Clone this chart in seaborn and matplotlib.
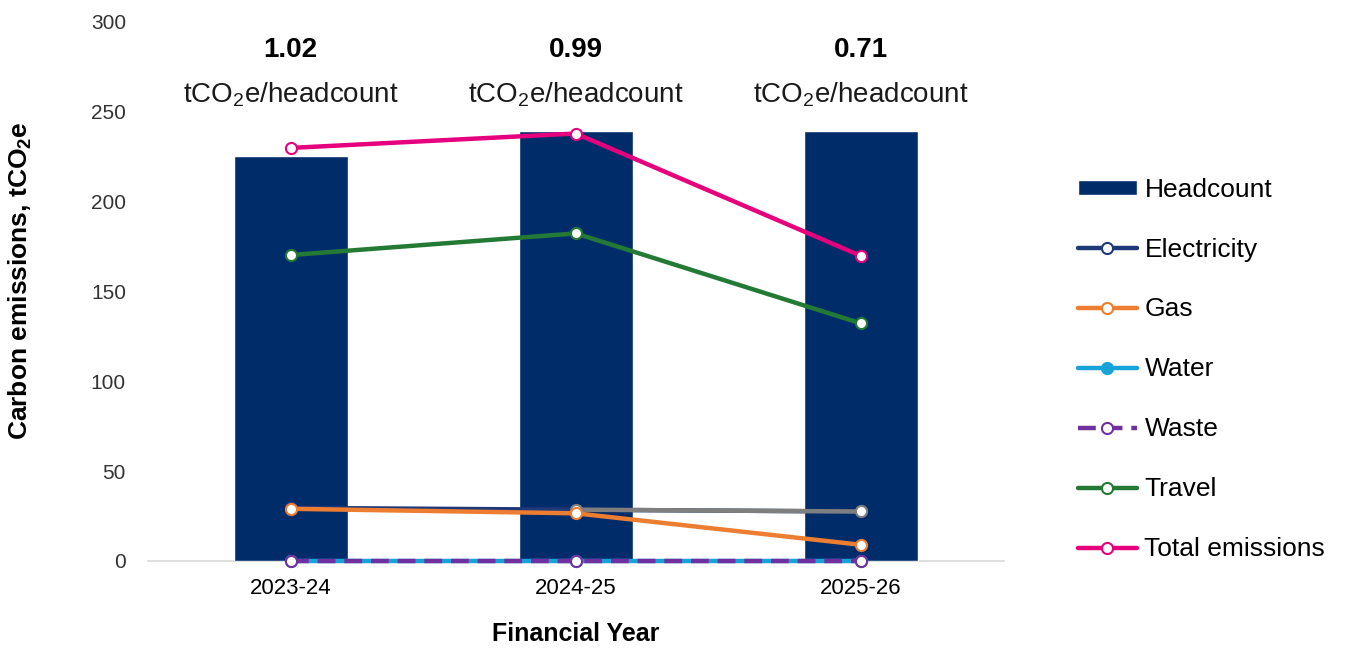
import numpy as np
import pandas as pd
import matplotlib
matplotlib.use("Agg")
import matplotlib.pyplot as plt
import seaborn as sns

# Chart data
years = ["2023-24", "2024-25", "2025-26"]
headcount = [225, 239, 239]
electricity = [29.5, 28.5, 27.5]
gas = [29.0, 26.5, 9.0]
water = [0, 0, 0]
waste = [0, 0, 0]
travel = [170, 182, 132]
total = [229.5, 237.5, 169.5]
per_head = ["1.02", "0.99", "0.71"]

sns.set_theme(style="white")
plt.rcParams['font.family'] = ['Liberation Sans', 'DejaVu Sans']
plt.rcParams['mathtext.fontset'] = 'custom'
plt.rcParams['mathtext.rm'] = 'Liberation Sans'
plt.rcParams['mathtext.it'] = 'Liberation Sans'
plt.rcParams['mathtext.bf'] = 'Liberation Sans:bold'
plt.rcParams['text.color'] = 'black'
plt.rcParams['axes.labelcolor'] = 'black'

NAVY = "#002D6A"
ELEC = "#1F3878"
ORANGE = "#ED7D31"
CYAN = "#17A2D8"
PURPLE = "#7030A0"
GREEN = "#237A35"
PINK = "#E6007E"
GREY = "#7F7F7F"

fig = plt.figure(figsize=(13.47, 6.49), dpi=100)
ax = fig.add_axes([0.110, 0.1356, 0.635, 0.832])

df = pd.DataFrame({"Year": years, "Headcount": headcount})
sns.barplot(data=df, x="Year", y="Headcount", order=years, color=NAVY,
            saturation=1, width=0.4, label="Headcount", ax=ax, zorder=1)

line_kw = dict(order=years, errorbar=None, markers="o", markersize=8,
               linewidth=3.2, markeredgewidth=1.5, ax=ax)

sns.pointplot(x=years, y=electricity, color=ELEC, linestyles="-",
              label="Electricity", markerfacecolor="white", zorder=3, **line_kw)
# last electricity segment is drawn in grey in the original
sns.pointplot(x=years[1:], y=electricity[1:], color=GREY, linestyles="-",
              markerfacecolor="white", zorder=3.05, **line_kw)
sns.pointplot(x=years, y=gas, color=ORANGE, linestyles="-", label="Gas",
              markerfacecolor="white", zorder=3.1, **line_kw)
sns.pointplot(x=years, y=water, color=CYAN, linestyles="-", label="Water",
              markerfacecolor=CYAN, zorder=3.1, **line_kw)
sns.pointplot(x=years, y=waste, color=PURPLE, linestyles=(0, (4, 2)),
              label="Waste", markerfacecolor="white", zorder=3.2, **line_kw)
sns.pointplot(x=years, y=travel, color=GREEN, linestyles="-", label="Travel",
              markerfacecolor="white", zorder=3.1, **line_kw)
sns.pointplot(x=years, y=total, color=PINK, linestyles="-",
              label="Total emissions", markerfacecolor="white", zorder=3.1,
              **line_kw)
if ax.get_legend() is not None:
    ax.get_legend().remove()
# lines at zero should sit fully on top of the baseline, not be clipped
for ln in ax.lines:
    ln.set_clip_on(False)

# intensity annotations above each year
for i, val in enumerate(per_head):
    ax.text(i, 284, val, ha="center", va="center", fontsize=20,
            fontweight="bold", color="black", clip_on=False)
    ax.text(i, 259, r"tCO$_2$e/headcount", ha="center", va="center",
            fontsize=20, color="#1a1a1a", clip_on=False)

ax.set_xlim(-0.5, 2.5)
ax.set_ylim(0, 300)
ax.set_yticks(np.arange(0, 301, 50))
ax.grid(False)
for s in ["top", "right", "left"]:
    ax.spines[s].set_visible(False)
ax.spines["bottom"].set_color("#D9D9D9")
ax.spines["bottom"].set_linewidth(1.2)
ax.spines["bottom"].set_zorder(0)
ax.tick_params(axis="y", length=0, pad=16, labelsize=15, labelcolor="#333333")
ax.tick_params(axis="x", length=0, pad=12, labelsize=16, labelcolor="black")

ax.set_xlabel("Financial Year", fontsize=18, fontweight="bold", labelpad=17)
ax.set_ylabel(r"Carbon emissions, tCO$_\mathbf{2}$e", fontsize=19, fontweight="bold")
ax.yaxis.set_label_coords(-0.134, 0.52)

handles, labels = ax.get_legend_handles_labels()
keep = [(h, l) for h, l in zip(handles, labels) if l and not l.startswith("_")]
order = ["Headcount", "Electricity", "Gas", "Water", "Waste", "Travel", "Total emissions"]
lookup = {l: h for h, l in keep}
fig.legend([lookup[l] for l in order], order, loc="center left",
           bbox_to_anchor=(0.783, 0.431), frameon=False, fontsize=19,
           labelspacing=1.36, handlelength=2.2, handletextpad=0.3,
           handleheight=0.5)

fig.savefig("out.png", dpi=100)
